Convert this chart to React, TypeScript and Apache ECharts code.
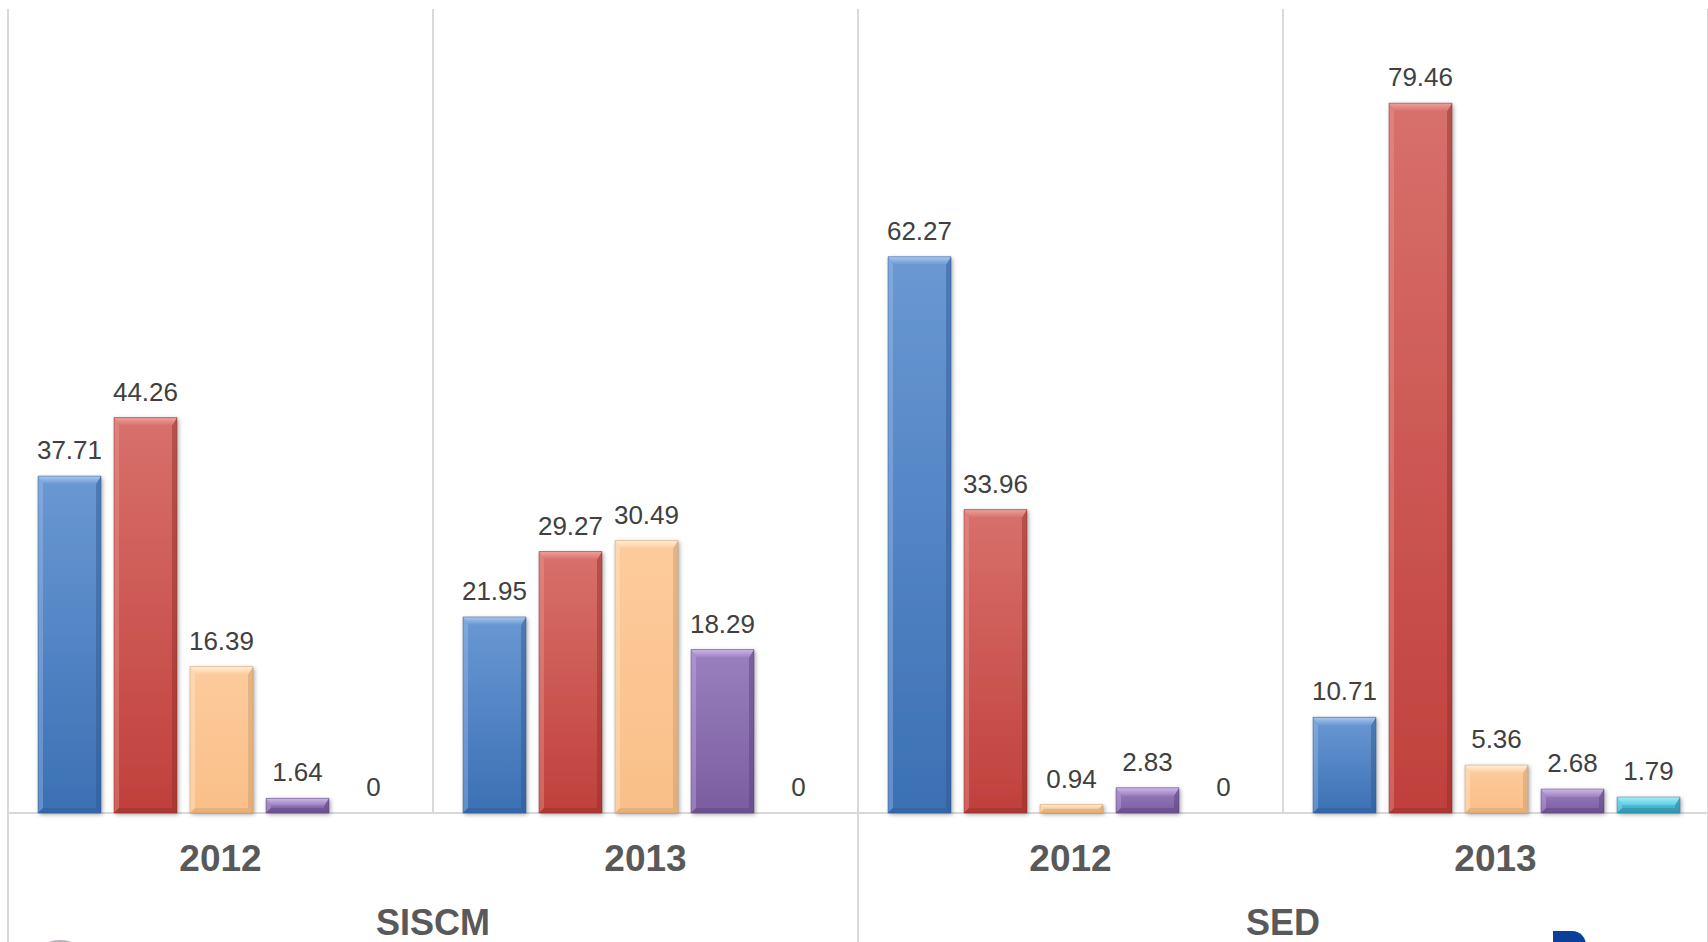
import React, { useEffect, useRef } from "react";
import * as echarts from "echarts";

// Categories: year per bar group, then the program each pair of years belongs to
const years = ["2012", "2013", "2012", "2013"];
const programs = ["SISCM", "SED"];

// Percentages per series (one value per year group)
const serie1 = [37.71, 21.95, 62.27, 10.71];
const serie2 = [44.26, 29.27, 33.96, 79.46];
const serie3 = [16.39, 30.49, 0.94, 5.36];
const serie4 = [1.64, 18.29, 2.83, 2.68];
const serie5 = [0, 0, 0, 1.79];

const seriesNames = ["Serie 1", "Serie 2", "Serie 3", "Serie 4", "Serie 5"];
const seriesData = [serie1, serie2, serie3, serie4, serie5];

// top / bottom / light bevel / dark bevel colours per series
const palettes = [
  { top: "#6a98d3", bottom: "#3b70b4", light: "#a9c8ee", dark: "#2c578f" },
  { top: "#d8706b", bottom: "#c0403c", light: "#eda29e", dark: "#8e2c29" },
  { top: "#fdcb9c", bottom: "#f9bf88", light: "#fff0d8", dark: "#c89a6c" },
  { top: "#9a80bf", bottom: "#7a5d9f", light: "#cdb8ea", dark: "#573f78" },
  { top: "#62cde4", bottom: "#38a8c3", light: "#a8ecf8", dark: "#26809a" },
];

const AXIS_GREY = "#d9d9d9";
const FONT = "'Liberation Sans', Arial, sans-serif";

// bar layout as fractions of one category band
const BAR_FRAC = 63 / 425;
const STEP_FRAC = 76 / 425;

function makeRenderItem(seriesIdx: number) {
  const pal = palettes[seriesIdx];
  return (params: any, api: any) => {
    const cat = api.value(0);
    const val = api.value(1);
    const base = api.coord([cat, 0]);
    const top = api.coord([cat, val]);
    const band = api.size([1, 0])[0];
    const barW = band * BAR_FRAC;
    const step = band * STEP_FRAC;
    const cx = base[0] + (seriesIdx - 2) * step + 1;
    const x0 = cx - barW / 2;
    const x1 = cx + barW / 2;
    const yTop = top[1];
    const yBase = base[1];
    const h = yBase - yTop;
    const children: any[] = [];
    if (h > 0.5) {
      const b = Math.min(8, h / 2);
      const s = Math.min(5, h / 2);
      children.push({
        type: "rect",
        shape: { x: x0, y: yTop, width: barW, height: h },
        style: {
          fill: new echarts.graphic.LinearGradient(0, 0, 0, 1, [
            { offset: 0, color: pal.top },
            { offset: 1, color: pal.bottom },
          ]),
          shadowBlur: 4,
          shadowColor: "rgba(0,0,0,0.35)",
          shadowOffsetX: 1.5,
          shadowOffsetY: 1.5,
        },
      });
      // left bevel
      children.push({
        type: "polygon",
        shape: { points: [[x0, yTop], [x0 + s, yTop + b], [x0 + s, yBase - s], [x0, yBase]] },
        style: { fill: pal.light, opacity: 0.35 },
      });
      // right bevel
      children.push({
        type: "polygon",
        shape: { points: [[x1, yTop], [x1 - s, yTop + b], [x1 - s, yBase - s], [x1, yBase]] },
        style: { fill: pal.dark, opacity: 0.45 },
      });
      // bottom bevel
      children.push({
        type: "polygon",
        shape: { points: [[x0, yBase], [x0 + s, yBase - s], [x1 - s, yBase - s], [x1, yBase]] },
        style: { fill: pal.dark, opacity: 0.4 },
      });
      // top bevel
      children.push({
        type: "polygon",
        shape: { points: [[x0, yTop], [x1, yTop], [x1 - s, yTop + b], [x0 + s, yTop + b]] },
        style: {
          fill: new echarts.graphic.LinearGradient(0, 0, 0, 1, [
            { offset: 0, color: pal.light },
            { offset: 1, color: pal.top },
          ]),
        },
      });
      // thin outline
      children.push({
        type: "rect",
        shape: { x: x0, y: yTop, width: barW, height: h },
        style: { fill: "none", stroke: pal.dark, lineWidth: 0.8, opacity: 0.6 },
      });
    }
    children.push({
      type: "text",
      style: {
        x: cx,
        y: yTop - 26,
        text: String(val),
        fill: "#404040",
        font: `26px ${FONT}`,
        align: "center",
        verticalAlign: "middle",
      },
    });
    return { type: "group", children };
  };
}

export default function App() {
  const ref = useRef<HTMLDivElement>(null);

  useEffect(() => {
    if (!ref.current) return;
    const chart = echarts.init(ref.current, null, { renderer: "svg" });
    chart.setOption({
      animation: false,
      backgroundColor: "#ffffff",
      grid: { left: 8, right: 0, top: 9, bottom: 129, containLabel: false },
      xAxis: [
        {
          type: "category",
          data: years,
          position: "bottom",
          axisLine: { show: true, lineStyle: { color: AXIS_GREY, width: 2 } },
          axisTick: { show: false },
          splitLine: { show: true, lineStyle: { color: AXIS_GREY, width: 2 } },
          axisLabel: {
            margin: 27,
            color: "#595959",
            fontSize: 37,
            fontWeight: "bold",
            fontFamily: FONT,
          },
        },
        {
          type: "category",
          data: programs,
          position: "bottom",
          axisLine: { show: false },
          axisTick: { show: true, length: 130, lineStyle: { color: AXIS_GREY, width: 2 } },
          splitLine: { show: false },
          axisLabel: {
            margin: 94,
            lineHeight: 30,
            color: "#595959",
            fontSize: 36,
            fontWeight: "bold",
            fontFamily: FONT,
          },
        },
      ],
      yAxis: { type: "value", min: 0, max: 90, show: false },
      series: seriesData.map((arr, i) => ({
        type: "custom",
        name: seriesNames[i],
        xAxisIndex: 0,
        yAxisIndex: 0,
        clip: false,
        data: arr.map((v, c) => [c, v]),
        renderItem: makeRenderItem(i),
      })),
      graphic: [
        {
          type: "rect",
          left: 1553,
          top: 931,
          shape: { width: 33, height: 14, r: [0, 16, 0, 0] },
          style: { fill: "#0b3f9c" },
        },
        {
          type: "arc",
          shape: { cx: 60, cy: 975, r: 34, startAngle: -Math.PI * 0.75, endAngle: -Math.PI * 0.25 },
          style: { stroke: "#b8b0b8", lineWidth: 2, fill: "none" },
        },
      ],
    });
    return () => chart.dispose();
  }, []);

  return (
    <div
      ref={ref}
      style={{ position: "fixed", left: 0, top: 0, width: 1708, height: 942, background: "#fff" }}
    />
  );
}
